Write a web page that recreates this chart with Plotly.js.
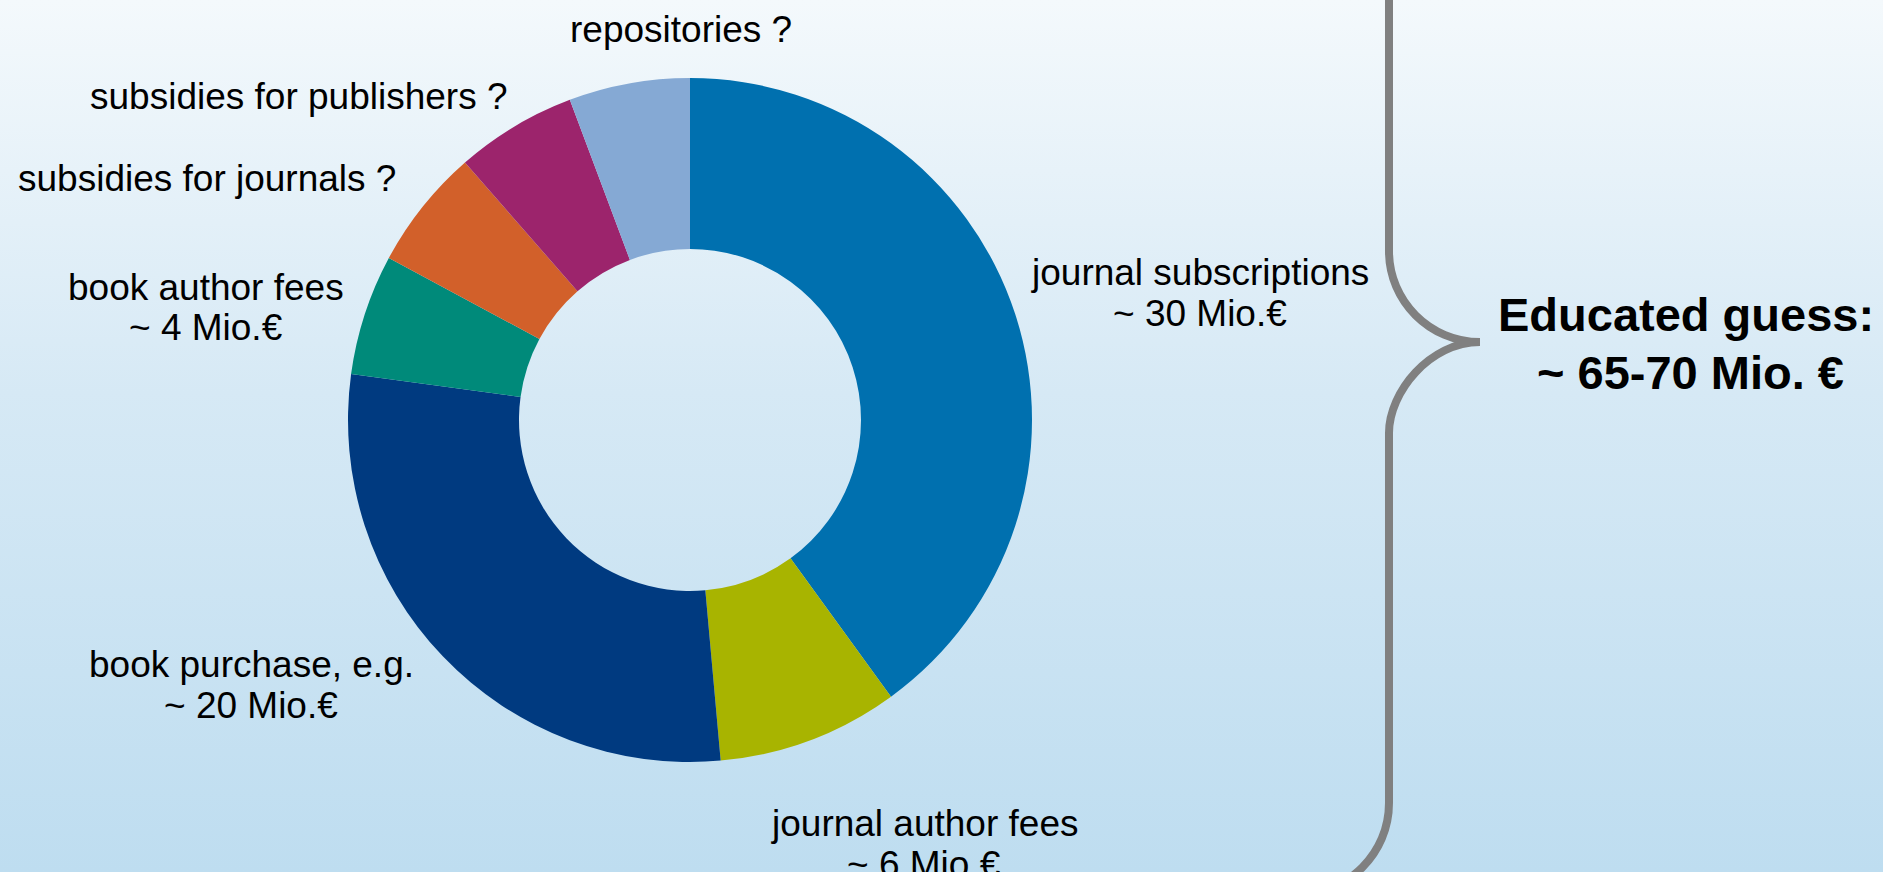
<!DOCTYPE html>
<html>
<head>
<meta charset="utf-8">
<script src="https://cdn.plot.ly/plotly-3.0.1.min.js"></script>
<style>
  html, body { margin: 0; padding: 0; }
  body { width: 1883px; height: 872px; overflow: hidden;
         background: linear-gradient(to bottom, #F4F9FC 0%, #D6E9F5 45%, #BEDDF0 100%); }
  #chart { width: 1883px; height: 872px; }
</style>
</head>
<body>
<div id="chart"></div>
<script>
// ---- data ----
const categories = ["journal subscriptions", "journal author fees", "book purchase, e.g.",
                    "book author fees", "subsidies for journals", "subsidies for publishers", "repositories"];
const values = [28, 6, 20, 4, 4, 4, 4];
const labelLine1 = ["journal subscriptions", "journal author fees", "book purchase, e.g.",
                    "book author fees", "subsidies for journals ?", "subsidies for publishers ?", "repositories ?"];
const labelLine2 = ["~ 30 Mio.€", "~ 6 Mio.€", "~ 20 Mio.€", "~ 4 Mio.€", "", "", ""];
const totalLines = ["Educated guess:", "~ 65-70 Mio. €"];

// ---- styles / layout ----
const colors = ["#0070AF", "#A8B400", "#003A80", "#008A7A", "#D2602A", "#9C246C", "#85A9D4"];
const W = 1883, H = 872;
const px = x => x / W;
const py = y => 1 - y / H;
const cx = 690, cy = 420, R = 342;
// label centre positions in pixels: [x, y of first line]
const labelPos = [[1200, 272], [924, 823], [251, 664], [206, 287], [207, 178], [299, 96], [681, 30]];
const lineGap = 41;

const fontFam = "Liberation Sans, Arial, sans-serif";

const trace = {
  type: "pie",
  labels: categories,
  values: values,
  sort: false,
  direction: "clockwise",
  rotation: 0,
  hole: 0.5,
  textinfo: "none",
  hoverinfo: "label+value",
  marker: { colors: colors, line: { width: 0 } },
  domain: { x: [px(cx - R), px(cx + R)], y: [py(cy + R), py(cy - R)] },
  showlegend: false
};

function ann(text, x, y, size, bold) {
  return {
    text: bold ? "<b>" + text + "</b>" : text,
    xref: "paper", yref: "paper", x: px(x), y: py(y),
    xanchor: "center", yanchor: "middle", align: "center", showarrow: false,
    font: { family: fontFam, size: size, color: "#000000" }
  };
}
const annotations = [];
categories.forEach((c, i) => {
  annotations.push(ann(labelLine1[i], labelPos[i][0], labelPos[i][1], 37, false));
  if (labelLine2[i]) annotations.push(ann(labelLine2[i], labelPos[i][0], labelPos[i][1] + lineGap, 37, false));
});
annotations.push(ann(totalLines[0], 1686, 314, 47, true));
annotations.push(ann(totalLines[1], 1690, 373, 47, true));

// curly brace path (pixel coords -> paper)
function P(x, y) { return px(x).toFixed(5) + "," + py(y).toFixed(5); }
const bx = 1389, tipX = 1480, tipY = 342, r = 91;
const k = 0.5523 * r;
const bracePath =
  "M " + P(bx, -60) +
  " L " + P(bx, tipY - r) +
  " C " + P(bx, tipY - r + k) + " " + P(tipX - k, tipY) + " " + P(tipX, tipY) +
  " C " + P(tipX - k, tipY) + " " + P(bx, tipY + k) + " " + P(bx, tipY + r) +
  " L " + P(bx, 803) +
  " C " + P(bx, 803 + k) + " " + P(bx - r + k, 803 + r) + " " + P(bx - r, 803 + r);

const layout = {
  width: W, height: H,
  margin: { l: 0, r: 0, t: 0, b: 0, pad: 0 },
  paper_bgcolor: "rgba(0,0,0,0)",
  plot_bgcolor: "rgba(0,0,0,0)",
  showlegend: false,
  annotations: annotations,
  shapes: [{
    type: "path", xref: "paper", yref: "paper", path: bracePath,
    line: { color: "#808080", width: 8 }, fillcolor: "rgba(0,0,0,0)", layer: "above"
  }]
};

Plotly.newPlot("chart", [trace], layout, { displayModeBar: false, staticPlot: true });
</script>
</body>
</html>
